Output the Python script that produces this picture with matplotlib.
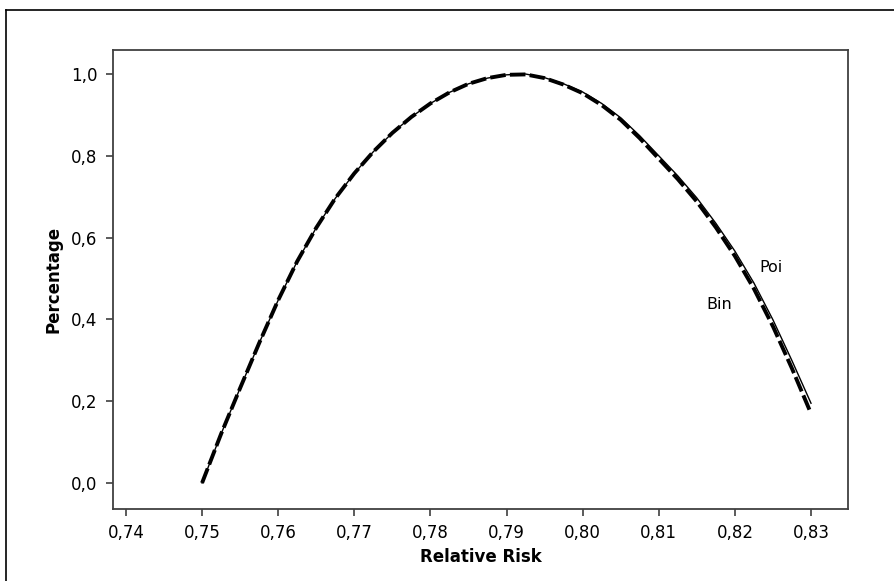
import matplotlib
matplotlib.use('Agg')
import matplotlib.pyplot as plt
from matplotlib.ticker import FuncFormatter
from matplotlib.lines import Line2D

## 数据：值
rr = [0.750, 0.7525, 0.755, 0.7575, 0.760, 0.7625, 0.765, 0.7675, 0.770,
      0.7725, 0.775, 0.7775, 0.780, 0.7825, 0.785, 0.7875, 0.790, 0.7925,
      0.795, 0.7975, 0.800, 0.8025, 0.805, 0.8075, 0.810, 0.8125, 0.815,
      0.8175, 0.820, 0.8225, 0.825, 0.8275, 0.830]
bin_pct = [0.000, 0.120, 0.232, 0.342, 0.447, 0.542, 0.624, 0.696, 0.757,
           0.810, 0.856, 0.895, 0.928, 0.955, 0.976, 0.990, 0.998, 0.999,
           0.990, 0.974, 0.953, 0.924, 0.888, 0.843, 0.793, 0.743, 0.688,
           0.625, 0.555, 0.475, 0.383, 0.280, 0.170]
poi_pct = [0.000, 0.120, 0.232, 0.342, 0.447, 0.542, 0.624, 0.696, 0.757,
           0.810, 0.856, 0.895, 0.928, 0.955, 0.976, 0.990, 0.998, 1.000,
           0.991, 0.976, 0.956, 0.928, 0.893, 0.849, 0.800, 0.751, 0.697,
           0.635, 0.567, 0.489, 0.399, 0.299, 0.195]
x_ticks = [0.74, 0.75, 0.76, 0.77, 0.78, 0.79, 0.80, 0.81, 0.82, 0.83]
y_ticks = [0.0, 0.2, 0.4, 0.6, 0.8, 1.0]

plt.rcParams['font.family'] = ['DejaVu Sans']

fig = plt.figure(figsize=(8.94, 5.81), dpi=100)
ax = fig.add_axes([113/894, 1-509/581, (848-113)/894, (509-50)/581])

## 两条曲线
ax.plot(rr, bin_pct, color='black', linewidth=2.8, linestyle=(0, (4, 1.1)))
ax.plot(rr, poi_pct, color='black', linewidth=1.0)

ax.text(0.8248, 0.526, 'Poi', fontsize=11.5, ha='center', va='center')
ax.text(0.8179, 0.436, 'Bin', fontsize=11.5, ha='center', va='center')

ax.set_xlim(0.7383, 0.83486)
ax.set_ylim(-0.0636, 1.0587)
ax.set_xticks(x_ticks)
ax.set_yticks(y_ticks)
ax.xaxis.set_major_formatter(FuncFormatter(lambda v, p: f'{v:.2f}'.replace('.', ',')))
ax.yaxis.set_major_formatter(FuncFormatter(lambda v, p: f'{v:.1f}'.replace('.', ',')))
ax.tick_params(labelsize=12, length=5, width=1.2, color='#404040', pad=6)

for s in ax.spines.values():
    s.set_color('#404040')
    s.set_linewidth(1.3)

ax.set_xlabel('Relative Risk', fontsize=12, fontweight='bold', labelpad=4)
ax.set_ylabel('Percentage', fontsize=12, fontweight='bold', labelpad=6)

## 外框（左边和上边）
fig.add_artist(Line2D([5.5/894, 5.5/894], [0, 1-10/581], color='black', linewidth=1.2))
fig.add_artist(Line2D([5.5/894, 1], [1-10/581, 1-10/581], color='black', linewidth=1.2))

fig.savefig('out.png', dpi=100)
